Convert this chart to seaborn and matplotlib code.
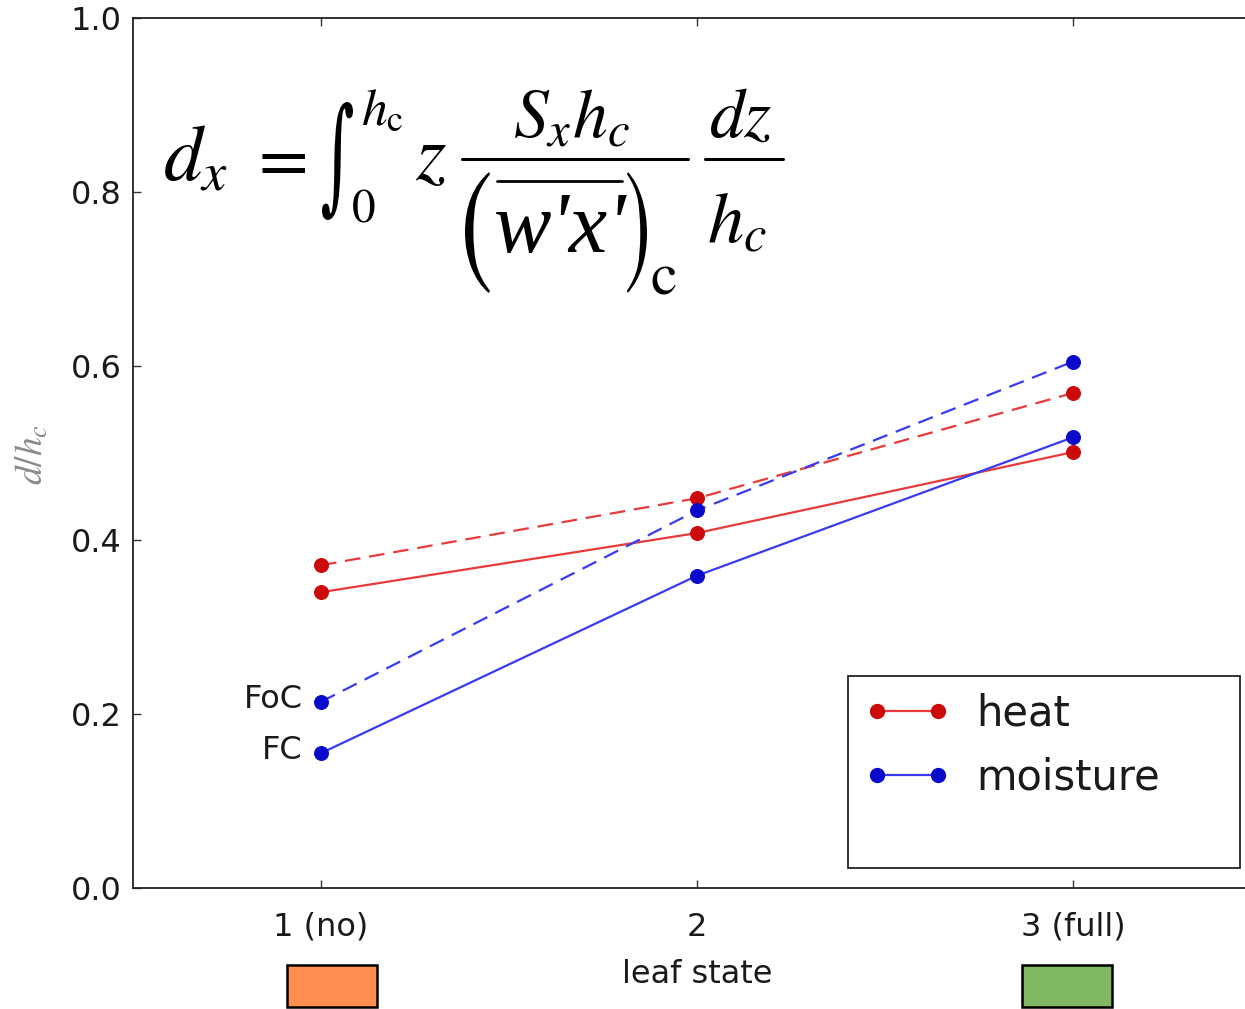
import numpy as np
import pandas as pd
import matplotlib
matplotlib.use("Agg")
import matplotlib.pyplot as plt
import matplotlib.transforms as mtransforms
from matplotlib.lines import Line2D
from matplotlib.patches import Rectangle, PathPatch
from matplotlib.textpath import TextPath
from matplotlib.font_manager import FontProperties
import seaborn as sns

# ---- data ----
leaf_state = [1, 2, 3]
tick_labels = ["1 (no)", "2", "3 (full)"]
heat_fc = [0.340, 0.408, 0.501]
heat_foc = [0.371, 0.448, 0.569]
moisture_fc = [0.155, 0.359, 0.518]
moisture_foc = [0.214, 0.434, 0.605]

rows = []
for var, method, vals in [("heat", "FC", heat_fc), ("heat", "FoC", heat_foc),
                          ("moisture", "FC", moisture_fc), ("moisture", "FoC", moisture_foc)]:
    for s, v in zip(leaf_state, vals):
        rows.append({"state": s, "d": v, "var": var, "method": method})
df = pd.DataFrame(rows)

sns.set_theme(style="white")
plt.rcParams["font.family"] = ["DejaVu Sans"]
plt.rcParams["mathtext.fontset"] = "stix"

W, H = 1245, 1009
fig = plt.figure(figsize=(W / 100, H / 100), dpi=100)
fig.patch.set_facecolor("white")
ax = fig.add_axes([133 / W, 121 / H, (1261 - 133) / W, 870 / H])

line_cols = {"heat": "#e83a3a", "moisture": "#3a3af0"}
mark_cols = {"heat": "#cc0a0a", "moisture": "#0a0acc"}

for (var, method), sub in df.groupby(["var", "method"]):
    sns.lineplot(data=sub, x="state", y="d", ax=ax, color=line_cols[var],
                 linewidth=1.6, marker="o", markersize=10,
                 markerfacecolor=mark_cols[var], markeredgecolor=mark_cols[var],
                 legend=False)
    if method == "FoC":
        ax.lines[-1].set_dashes((7, 4))

ax.set_xlim(0.5, 3.5)
ax.set_ylim(0.0, 1.0)
ax.set_xticks(leaf_state)
ax.set_xticklabels(tick_labels)
ax.set_yticks([0.0, 0.2, 0.4, 0.6, 0.8, 1.0])
ax.set_yticklabels(["0.0", "0.2", "0.4", "0.6", "0.8", "1.0"])
ax.tick_params(axis="both", direction="in", length=6, width=1, color="#333333",
               labelsize=23, labelcolor="#1a1a1a", top=True, right=True,
               bottom=True, left=True)
ax.tick_params(axis="x", pad=17)
ax.tick_params(axis="y", pad=8)
for sp in ax.spines.values():
    sp.set_visible(True)
    sp.set_color("#222222")
    sp.set_linewidth(1.3)

ax.set_xlabel("leaf state", fontsize=23, color="#1a1a1a", labelpad=12)
ax.set_ylabel(r"$d/h_c$", fontsize=27, color="#8a8a8a")
ax.yaxis.set_label_coords((51 - 133) / 1128, 0.498)

# method labels next to the moisture points at leaf state 1
for txt, val in [("FoC", moisture_foc[0]), ("FC", moisture_fc[0])]:
    ax.annotate(txt, xy=(leaf_state[0], val), xytext=(-13, 2),
                textcoords="offset points", ha="right", va="center",
                fontsize=23, color="#1a1a1a")

# legend
handles = [
    Line2D([0], [0], color=line_cols["heat"], lw=1.6, marker="o", markersize=10,
           markerfacecolor=mark_cols["heat"], markeredgecolor=mark_cols["heat"]),
    Line2D([0], [0], color=line_cols["moisture"], lw=1.6, marker="o", markersize=10,
           markerfacecolor=mark_cols["moisture"], markeredgecolor=mark_cols["moisture"]),
]
ax.legend(handles, ["heat", "moisture"], loc="upper left",
          bbox_to_anchor=((848 - 133) / 1128, (888 - 676) / 870),
          fontsize=30, frameon=False, numpoints=2,
          handlelength=2.05, handletextpad=0.62, borderpad=0.4,
          labelspacing=0.52, borderaxespad=0, labelcolor="#1a1a1a")
ax.add_patch(Rectangle(((848 - 133) / 1128, (888 - 868) / 870),
                       (1240 - 848) / 1128, (868 - 676) / 870,
                       transform=ax.transAxes, facecolor="none",
                       edgecolor="#222222", linewidth=1.3, zorder=5))

# leaf-state colour swatches beneath the axis
trans = mtransforms.blended_transform_factory(ax.transData, fig.transFigure)
swatch_w = 0.24
for xc, col in [(1.029, "#ff8f50"), (2.984, "#80b864")]:
    ax.add_patch(Rectangle((xc - swatch_w / 2, 2 / H), swatch_w, 42 / H,
                           transform=trans, facecolor=col, edgecolor="black",
                           linewidth=1.8, clip_on=False))


# ---- formula for the displacement height, typeset piece by piece ----
def ftext(s, x, y, size, ha="left", **kw):
    """Place text with its baseline at pixel (x, y) measured from the top-left."""
    fig.text(x / W, 1 - y / H, s, fontsize=size, ha=ha, va="baseline",
             color="black", **kw)


def hbar(x0, x1, y, lw=2.2):
    fig.add_artist(Line2D([x0 / W, x1 / W], [1 - y / H, 1 - y / H],
                          transform=fig.transFigure, color="black", lw=lw))


def big_glyph(ch, x0, x1, y0, y1, family="STIXGeneral"):
    """Draw a glyph stretched to fill a pixel box (top-left origin)."""
    tp = TextPath((0, 0), ch, size=1, prop=FontProperties(family=family))
    ext = tp.get_extents()
    tr = (mtransforms.Affine2D()
          .translate(-ext.x0, -ext.y0)
          .scale((x1 - x0) / ext.width, (y1 - y0) / ext.height)
          .translate(x0, H - y1))
    fig.add_artist(PathPatch(tp, transform=tr, facecolor="black", edgecolor="none"))


ftext(r"$d_x$", 163, 180, 56)
ftext(r"$=$", 248, 180, 52)
big_glyph("\u222b", 322, 353, 102, 220, family="DejaVu Serif")
ftext(r"$0$", 351, 222, 34)
ftext(r"$h_{\mathrm{c}}$", 361, 125, 37)
ftext(r"$z$", 415, 180, 56)

ftext(r"$S_x h_c$", 571, 137, 50, ha="center")
hbar(462, 688, 159)
ftext("w'x'", 560, 252, 62, ha="center",
      family=["Liberation Serif", "DejaVu Serif"], style="italic")
hbar(497, 622, 181, lw=2.0)
big_glyph("(", 465, 490, 172, 293)
big_glyph(")", 627, 647, 172, 293)
ftext(r"$\mathrm{c}$", 650, 293, 43)

ftext(r"$dz$", 741, 137, 50, ha="center")
hbar(705, 783, 159)
ftext(r"$h_c$", 737, 242, 52, ha="center")

fig.savefig("out.png", dpi=100, facecolor="white")
